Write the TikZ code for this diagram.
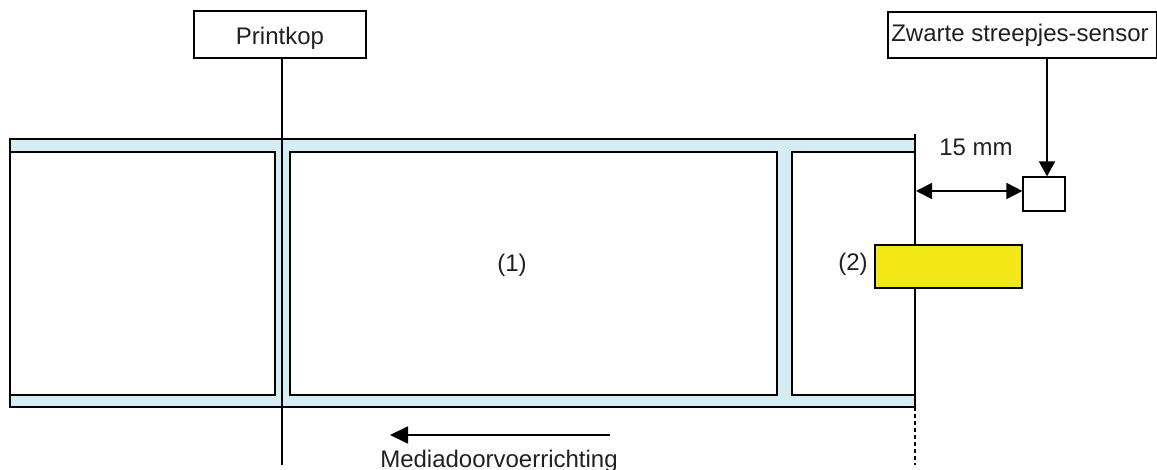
\documentclass[tikz,border=0pt]{standalone}
\usepackage{fontspec}
\setmainfont{Liberation Sans}
\usetikzlibrary{arrows.meta}
\definecolor{liner}{HTML}{D4ECF2}
\definecolor{tag}{HTML}{F2E817}
\definecolor{txt}{HTML}{231F20}
\tikzset{
  lbl/.style={font=\fontsize{24}{28}\selectfont, text=txt, inner sep=0pt},
  labelbox/.style={draw=black, line width=1.8pt, fill=white},
  callout/.style={draw=black, line width=1.2pt, fill=white, inner sep=0pt},
  lead/.style={draw=black, line width=1.3pt},
}
\begin{document}
\begin{tikzpicture}[x=1pt,y=-1pt]
\useasboundingbox (0,0) rectangle (1157,470);
% liner
\fill[liner, draw=black, line width=1.8pt] (10,139) rectangle (915,407);
% labels
\draw[labelbox] (10,152) rectangle (275,395);
\draw[labelbox] (290,152) rectangle (777,395);
\draw[labelbox] (792,152) rectangle (915,395);
\node[lbl] (one) at (512,265) {(1)};
% print head
\node[callout, minimum width=172pt, minimum height=47pt] (printkop) at (280,34.5) {};
\node[lbl, anchor=base] (printkoptxt) at (280,45) {Printkop};
\coordinate (phend) at (282,465);
\draw[lead] (printkop.south -| phend) -- (phend);
% dashed line
\coordinate (dtop) at (915,134);
\coordinate (dbot) at (915,465);
\draw[line width=1.4pt, dash pattern=on 4pt off 3pt] (dtop) -- (dbot);
% black mark
\node[draw=black, line width=1.2pt, fill=tag, minimum width=147pt, minimum height=43pt, inner sep=0pt] (mark) at (948.5,266.5) {};
\node[lbl] (two) at (853,264) {(2)};
% sensor
\node[callout, minimum width=269pt, minimum height=46pt] (sensorlbl) at (1022.5,35) {};
\node[lbl, anchor=base] (sensortxt) at (1020,42) {Zwarte streepjes-sensor};
\node[callout, minimum width=42pt, minimum height=34pt] (sensor) at (1044,194) {};
\coordinate (sx) at (1047,0);
\draw[line width=1.8pt, -{Triangle[length=15pt,width=16pt]}] (sensorlbl.south -| sx) -- (sensor.north -| sx);
% 15 mm
\coordinate (dl) at (916,191);
\draw[line width=1.8pt, {Triangle[length=16pt,width=16pt]}-{Triangle[length=16pt,width=16pt]}] (dl) -- (sensor.west |- dl);
\node[lbl, anchor=base] (mm) at (976,156) {15 mm};
% feed direction
\coordinate (fa) at (610,435);
\coordinate (fb) at (390,435);
\draw[line width=1.8pt, -{Triangle[length=18pt,width=17pt]}] (fa) -- (fb);
\node[lbl, anchor=base] (feed) at (499,467) {Mediadoorvoerrichting};
\end{tikzpicture}
\end{document}
